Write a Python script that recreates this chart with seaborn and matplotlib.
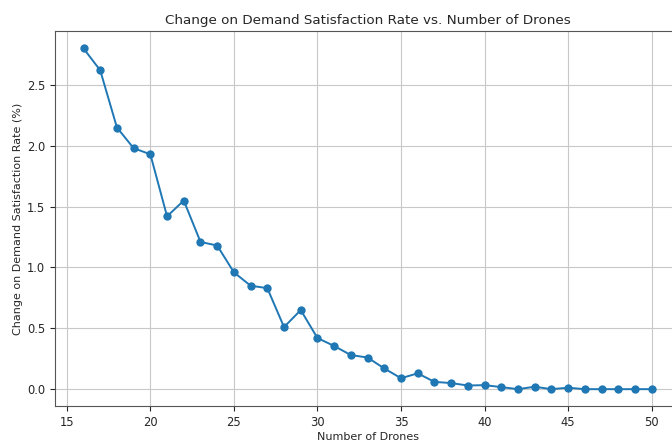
import numpy as np
import pandas as pd
import matplotlib
matplotlib.use("Agg")
import matplotlib.pyplot as plt
import seaborn as sns

# ====================== Data ======================
drones = list(range(16, 51))
change_rate = [2.80, 2.62, 2.15, 1.98, 1.93, 1.42, 1.55, 1.21, 1.18, 0.96,
               0.85, 0.83, 0.51, 0.65, 0.42, 0.355, 0.28, 0.26, 0.17, 0.09,
               0.13, 0.06, 0.05, 0.03, 0.033, 0.017, 0.0, 0.02, 0.0, 0.012,
               0.0, 0.0, 0.0, 0.0, 0.0]

df = pd.DataFrame({"Number of Drones": drones, "Change": change_rate})

# ====================== Canvas ======================
sns.set_style("ticks")
plt.rcParams["font.family"] = ["DejaVu Sans"]
fig = plt.figure(figsize=(6.72, 4.42), dpi=100)
# axes run slightly past the right edge, like the cropped original
ax = fig.add_axes([0.082, 0.081, 0.93, 0.848])

sns.lineplot(data=df, x="Number of Drones", y="Change", marker="o",
             markersize=6, markeredgewidth=0, color="#1f77b4",
             linewidth=1.4, ax=ax)

ax.set_title("Change on Demand Satisfaction Rate vs. Number of Drones", fontsize=9.7, pad=5)
ax.set_xlabel("Number of Drones", fontsize=8, labelpad=2)
ax.set_ylabel("Change on Demand Satisfaction Rate (%)", fontsize=8, labelpad=3)
ax.tick_params(labelsize=8.3)
ax.set_xticks(np.arange(15, 51, 5))
ax.set_yticks(np.arange(0, 2.6, 0.5))
ax.grid(True, color="#c8c8c8", linewidth=0.8)
for s in ax.spines.values():
    s.set_color("#555555")
ax.margins(x=0.05, y=0.05)

fig.savefig("out.png", dpi=100)
